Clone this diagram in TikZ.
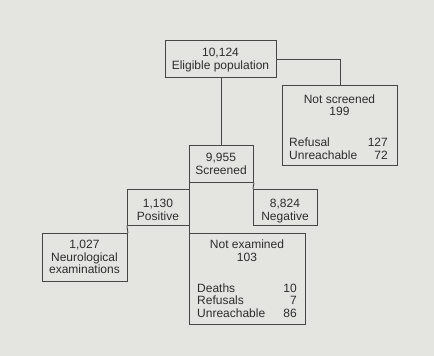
\documentclass[tikz,border=0pt]{standalone}
\usepackage{fontspec}
\setmainfont{Liberation Sans}
\definecolor{bgc}{RGB}{228,228,225}
\definecolor{linec}{RGB}{70,70,70}
\definecolor{txtc}{RGB}{45,45,45}
\begin{document}
\begin{tikzpicture}[x=1pt,y=-1pt,
  box/.style={draw=linec,line width=0.9pt,fill=bgc,inner sep=0pt,anchor=north west},
  txt/.style={text=txtc,font=\fontsize{12}{12.5}\selectfont,inner sep=0pt,anchor=base},
  lft/.style={txt,anchor=base west},
  rgt/.style={txt,anchor=base east},
  conn/.style={draw=linec,line width=0.9pt}]
\fill[bgc] (0,0) rectangle (434,356);
\useasboundingbox (0,0) rectangle (434,356);
% boxes
\node[box,minimum width=111pt,minimum height=37pt] (elig) at (165,40) {};
\node[box,minimum width=115pt,minimum height=80pt] (nots) at (282,85) {};
\node[box,minimum width=64pt,minimum height=37pt] (scr) at (189,145) {};
\node[box,minimum width=62pt,minimum height=36pt] (pos) at (127,189) {};
\node[box,minimum width=64pt,minimum height=36pt] (neg) at (253,189) {};
\node[box,minimum width=85pt,minimum height=48pt] (neuro) at (42,233) {};
\node[box,minimum width=116pt,minimum height=91pt] (notex) at (189,233) {};
% connectors
\draw[conn] (elig.south -| scr.north) -- (scr.north);
\draw[conn] (elig.east) -| (nots.north);
\draw[conn] (scr.south west) -- (notex.north west);
\draw[conn] (scr.south east) -- (neg.north west);
\draw[conn] (pos.south west) -- (neuro.north east);
% texts
\node[txt] (t1) at (220.5,56.5) {10,124};
\node[txt] (t2) at (220.5,69) {Eligible population};
\node[txt] (t3) at (339.5,103) {Not screened};
\node[txt] (t4) at (339.5,115.5) {199};
\node[lft] (t5) at (289,146.5) {Refusal};
\node[rgt] (t6) at (388,146.5) {127};
\node[lft] (t7) at (289,159) {Unreachable};
\node[rgt] (t8) at (388,159) {72};
\node[txt] (t9) at (221,161) {9,955};
\node[txt] (t10) at (221,174) {Screened};
\node[txt] (t11) at (158,207.5) {1,130};
\node[txt] (t12) at (158,220) {Positive};
\node[txt] (t13) at (285,207.5) {8,824};
\node[txt] (t14) at (285,220) {Negative};
\node[txt] (t15) at (84.5,248.5) {1,027};
\node[txt] (t16) at (84.5,261) {Neurological};
\node[txt] (t17) at (84.5,273.5) {examinations};
\node[txt] (t18) at (247,248.5) {Not examined};
\node[txt] (t19) at (247,261) {103};
\node[lft] (t20) at (197,292) {Deaths};
\node[rgt] (t21) at (297,292) {10};
\node[lft] (t22) at (197,304.5) {Refusals};
\node[rgt] (t23) at (297,304.5) {7};
\node[lft] (t24) at (197,317) {Unreachable};
\node[rgt] (t25) at (297,317) {86};
\end{tikzpicture}
\end{document}
